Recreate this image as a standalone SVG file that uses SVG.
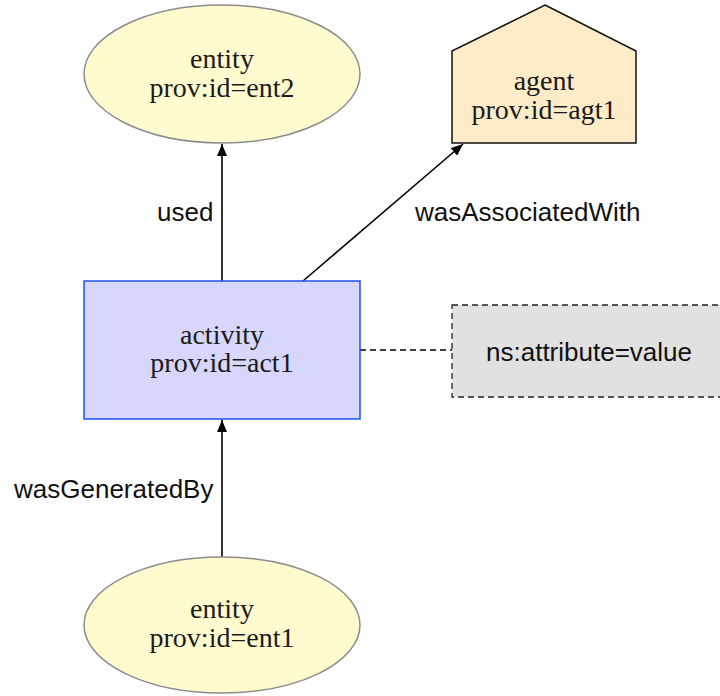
<svg xmlns="http://www.w3.org/2000/svg" width="720" height="696" viewBox="0 0 720 696">
  <style>
    .node-text { font-family: "Liberation Serif", "DejaVu Serif", serif; font-size: 28px; fill: #1a1a1a; text-anchor: middle; }
    .label { font-family: "Liberation Sans", Arial, sans-serif; font-size: 26px; fill: #111; }
    .entity { fill: #fffbcf; stroke: #8c8c8c; stroke-width: 1.5; }
    .agent { fill: #feecc9; stroke: #111; stroke-width: 1.5; }
    .activity { fill: #d7d7fb; stroke: #2050ff; stroke-width: 1.5; }
    .note { fill: #e1e1e1; stroke: #222; stroke-width: 1.3; stroke-dasharray: 6 4; }
    .edge { stroke: #000; stroke-width: 1.6; fill: none; }
    .dashed { stroke: #000; stroke-width: 1.3; fill: none; stroke-dasharray: 6 4; }
  </style>
  <defs>
    <marker id="arrow" viewBox="0 0 12 10" refX="12" refY="5" markerWidth="12" markerHeight="10" markerUnits="userSpaceOnUse" orient="auto">
      <path d="M0,0 L12,5 L0,10 Z" fill="#000"/>
    </marker>
  </defs>

  <rect width="720" height="696" fill="#ffffff"/>

  <!-- connectors -->
  <g id="edges">
    <line class="edge" x1="222" y1="281" x2="222" y2="144" marker-end="url(#arrow)"/>
    <line class="edge" x1="303" y1="281" x2="463" y2="144" marker-end="url(#arrow)"/>
    <line class="edge" x1="222" y1="557" x2="222" y2="420" marker-end="url(#arrow)"/>
    <line class="dashed" x1="360" y1="350" x2="452" y2="350"/>
    <text class="label" x="157" y="221">used</text>
    <text class="label" x="415" y="221">wasAssociatedWith</text>
    <text class="label" x="14" y="498">wasGeneratedBy</text>
  </g>

  <!-- entity ent2 -->
  <g id="ent2">
    <ellipse class="entity" cx="222" cy="74" rx="138" ry="69"/>
    <text class="node-text" x="222" y="68">entity</text>
    <text class="node-text" x="222" y="97">prov:id=ent2</text>
  </g>

  <!-- agent agt1 -->
  <g id="agt1">
    <polygon class="agent" points="545,5 636,51 636,143 452,143 452,51"/>
    <text class="node-text" x="544" y="90">agent</text>
    <text class="node-text" x="544" y="119">prov:id=agt1</text>
  </g>

  <!-- activity act1 -->
  <g id="act1">
    <rect class="activity" x="84" y="281" width="276" height="138"/>
    <text class="node-text" x="222" y="344">activity</text>
    <text class="node-text" x="222" y="372">prov:id=act1</text>
  </g>

  <!-- attribute note -->
  <g id="attrs">
    <rect class="note" x="452" y="305" width="290" height="92"/>
    <text class="label" x="589" y="361" text-anchor="middle">ns:attribute=value</text>
  </g>

  <!-- entity ent1 -->
  <g id="ent1">
    <ellipse class="entity" cx="222" cy="625" rx="138" ry="68"/>
    <text class="node-text" x="222" y="618">entity</text>
    <text class="node-text" x="222" y="647">prov:id=ent1</text>
  </g>
</svg>
